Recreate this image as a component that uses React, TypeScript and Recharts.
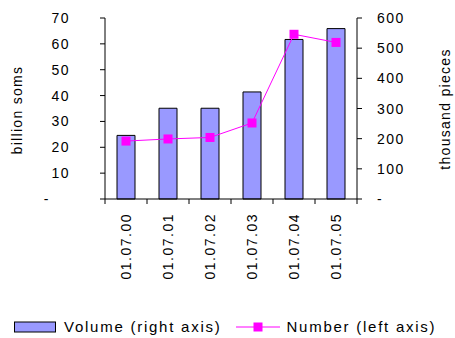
import React from "react"
import { ComposedChart, Bar, Line, XAxis, YAxis } from "recharts"

const categories = ["01.07.00", "01.07.01", "01.07.02", "01.07.03", "01.07.04", "01.07.05"]
const volume = [24.6, 35.1, 35.1, 41.4, 61.7, 65.9]
const number = [192, 199, 204, 252, 546, 519]
const leftTicks = [0, 10, 20, 30, 40, 50, 60, 70]
const rightTicks = [0, 100, 200, 300, 400, 500, 600]

const data = categories.map((c, i) => ({ name: c, volume: volume[i], number: number[i] }))

const FONT = "'Liberation Sans', Arial, sans-serif"
const BAR_FILL = "#9999FF"
const LINE_COLOR = "#FF00FF"

const LeftTick = ({ x, y, payload }: any) => {
  const zero = payload.value === 0
  return (
    <text
      x={zero ? x - 20 : x}
      y={y}
      dy="0.36em"
      textAnchor="end"
      fontFamily={FONT}
      fontSize={14}
      letterSpacing={1.5}
      fill="#000"
    >
      {zero ? "-" : payload.value}
    </text>
  )
}

const RightTick = ({ x, y, payload }: any) => (
  <text x={x} y={y} dy="0.36em" textAnchor="start" fontFamily={FONT} fontSize={14} letterSpacing={1.5} fill="#000">
    {payload.value === 0 ? "-" : payload.value}
  </text>
)

const DateTick = ({ x, y, payload, index }: any) => {
  const off = payload.offset || 21
  return (
    <g>
      <line x1={x - off} y1={y} x2={x - off} y2={y + 5} stroke="#000" />
      {index === categories.length - 1 && <line x1={x + off} y1={y} x2={x + off} y2={y + 5} stroke="#000" />}
      <text
        transform={`translate(${x}, ${y + 14}) rotate(-90)`}
        textAnchor="end"
        dy="0.36em"
        fontFamily={FONT}
        fontSize={14}
        letterSpacing={1.5}
        fill="#000"
      >
        {payload.value}
      </text>
    </g>
  )
}

const SquareDot = ({ cx, cy }: any) => (
  <rect x={cx - 4.5} y={cy - 4.5} width={9} height={9} fill={LINE_COLOR} />
)

// axis titles, placed by hand
const SideTitle = ({ x, y, text }: { x: number; y: number; text: string }) => (
  <div
    style={{
      position: "absolute",
      left: x,
      top: y,
      transform: "translate(-50%, -50%) rotate(-90deg)",
      fontFamily: FONT,
      fontSize: 14,
      letterSpacing: 1.3,
      whiteSpace: "nowrap",
      color: "#000",
      lineHeight: 1,
    }}
  >
    {text}
  </div>
)

const LegendBox = () => (
  <div
    style={{
      position: "absolute",
      left: 14,
      top: 318,
      display: "flex",
      alignItems: "center",
      fontFamily: FONT,
      fontSize: 15,
      letterSpacing: 1.75,
      color: "#000",
      whiteSpace: "nowrap",
    }}
  >
    <svg width={43} height={12} style={{ marginRight: 7 }}>
      <rect x={0.5} y={1} width={41} height={10} fill={BAR_FILL} stroke="#000" />
    </svg>
    <span>Volume (right axis)</span>
    <svg width={44} height={12} style={{ marginLeft: 15, marginRight: 6 }}>
      <line x1={0} y1={6} x2={44} y2={6} stroke={LINE_COLOR} />
      <rect x={17.5} y={1.5} width={9} height={9} fill={LINE_COLOR} />
    </svg>
    <span>Number (left axis)</span>
  </div>
)

export default function App() {
  return (
    <div style={{ position: "absolute", left: 0, top: 0, width: 455, height: 338, background: "#fff" }}>
      <ComposedChart width={455} height={338} data={data} margin={{ top: 18, right: 0, bottom: 0, left: 0 }}>
        <XAxis
          dataKey="name"
          height={139}
          tickLine={false}
          tickSize={0}
          tickMargin={0}
          interval={0}
          axisLine={{ stroke: "#000" }}
          tick={<DateTick />}
        />
        <YAxis
          yAxisId="left"
          orientation="left"
          width={105}
          domain={[0, 70]}
          ticks={leftTicks}
          interval={0}
          tickSize={5}
          tickMargin={30}
          axisLine={{ stroke: "#000" }}
          tickLine={{ stroke: "#000" }}
          tick={<LeftTick />}
        />
        <YAxis
          yAxisId="right"
          orientation="right"
          width={98}
          domain={[0, 600]}
          ticks={rightTicks}
          interval={0}
          tickSize={5}
          tickMargin={15}
          axisLine={{ stroke: "#000" }}
          tickLine={{ stroke: "#000" }}
          tick={<RightTick />}
        />
        <Bar
          yAxisId="left"
          dataKey="volume"
          barSize={18}
          fill={BAR_FILL}
          stroke="#000"
          strokeWidth={1}
          isAnimationActive={false}
        />
        <Line
          yAxisId="right"
          dataKey="number"
          stroke={LINE_COLOR}
          strokeWidth={1}
          dot={<SquareDot />}
          activeDot={false}
          isAnimationActive={false}
        />
      </ComposedChart>
      <SideTitle x={17} y={110} text="billion soms" />
      <SideTitle x={445} y={109} text="thousand pieces" />
      <LegendBox />
    </div>
  )
}
